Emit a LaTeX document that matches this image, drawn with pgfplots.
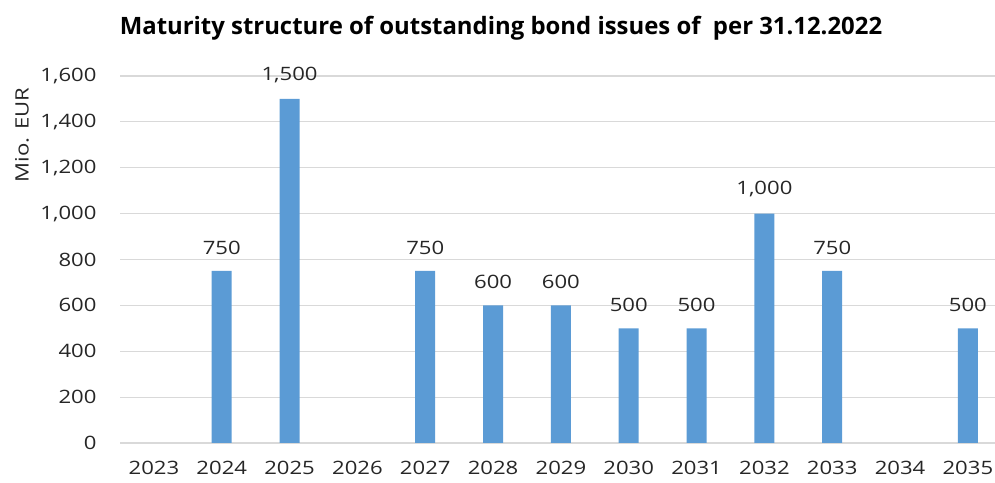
\documentclass[border=0pt]{standalone}
\usepackage{pgfplots}
\pgfplotsset{compat=1.18}
\usepackage{fontspec}
\setmainfont{Open Sans}
\newfontfamily\tickfont{Open Sans}[FakeStretch=1.2]
\definecolor{barblue}{HTML}{5B9BD5}
\definecolor{gridgray}{HTML}{D9D9D9}
\definecolor{txt}{HTML}{262626}
\begin{document}
\begin{tikzpicture}[x=1bp,y=1bp]
\useasboundingbox (0,0) rectangle (995,483);
\begin{axis}[
  at={(120bp,40bp)}, anchor=south west,
  scale only axis, width=875bp, height=367bp,
  xmin=-0.5, xmax=12.4, ymin=0, ymax=1600,
  enlarge x limits=false,
  ybar, bar width=20bp,
  xtick={0,...,12},
  xticklabels={2023,2024,2025,2026,2027,2028,2029,2030,2031,2032,2033,2034,2035},
  ytick={0,200,...,1600},
  axis x line*=bottom, axis y line*=left,
  y axis line style={draw=none},
  x axis line style={gridgray, line width=1.2bp},
  major tick length=0pt,
  ymajorgrids, grid style={gridgray, line width=1.2bp},
  tick label style={font=\tickfont\fontsize{18.5}{21}\selectfont, text=txt},
  /pgf/number format/.cd, 1000 sep={,}, assume math mode=true,
  /pgfplots/.cd,
  yticklabel style={xshift=-20bp},
  xticklabel style={yshift=-15bp},
  nodes near coords,
  every node near coord/.append style={font=\tickfont\fontsize{18.5}{21}\selectfont, text=txt, yshift=13bp},
]
\addplot[fill=barblue, draw=none] coordinates {
(1,750) (2,1500) (4,750) (5,600) (6,600) (7,500) (8,500) (9,1000) (10,750) (12,500)
};
\end{axis}
\node[rotate=90, font=\tickfont\fontsize{18.5}{21}\selectfont, text=txt] at (22,348) {Mio. EUR};
\node[font=\fontsize{24}{28}\selectfont\bfseries, text=black] at (501,455) {Maturity structure of outstanding bond issues of~~per 31.12.2022};
\end{tikzpicture}
\end{document}
